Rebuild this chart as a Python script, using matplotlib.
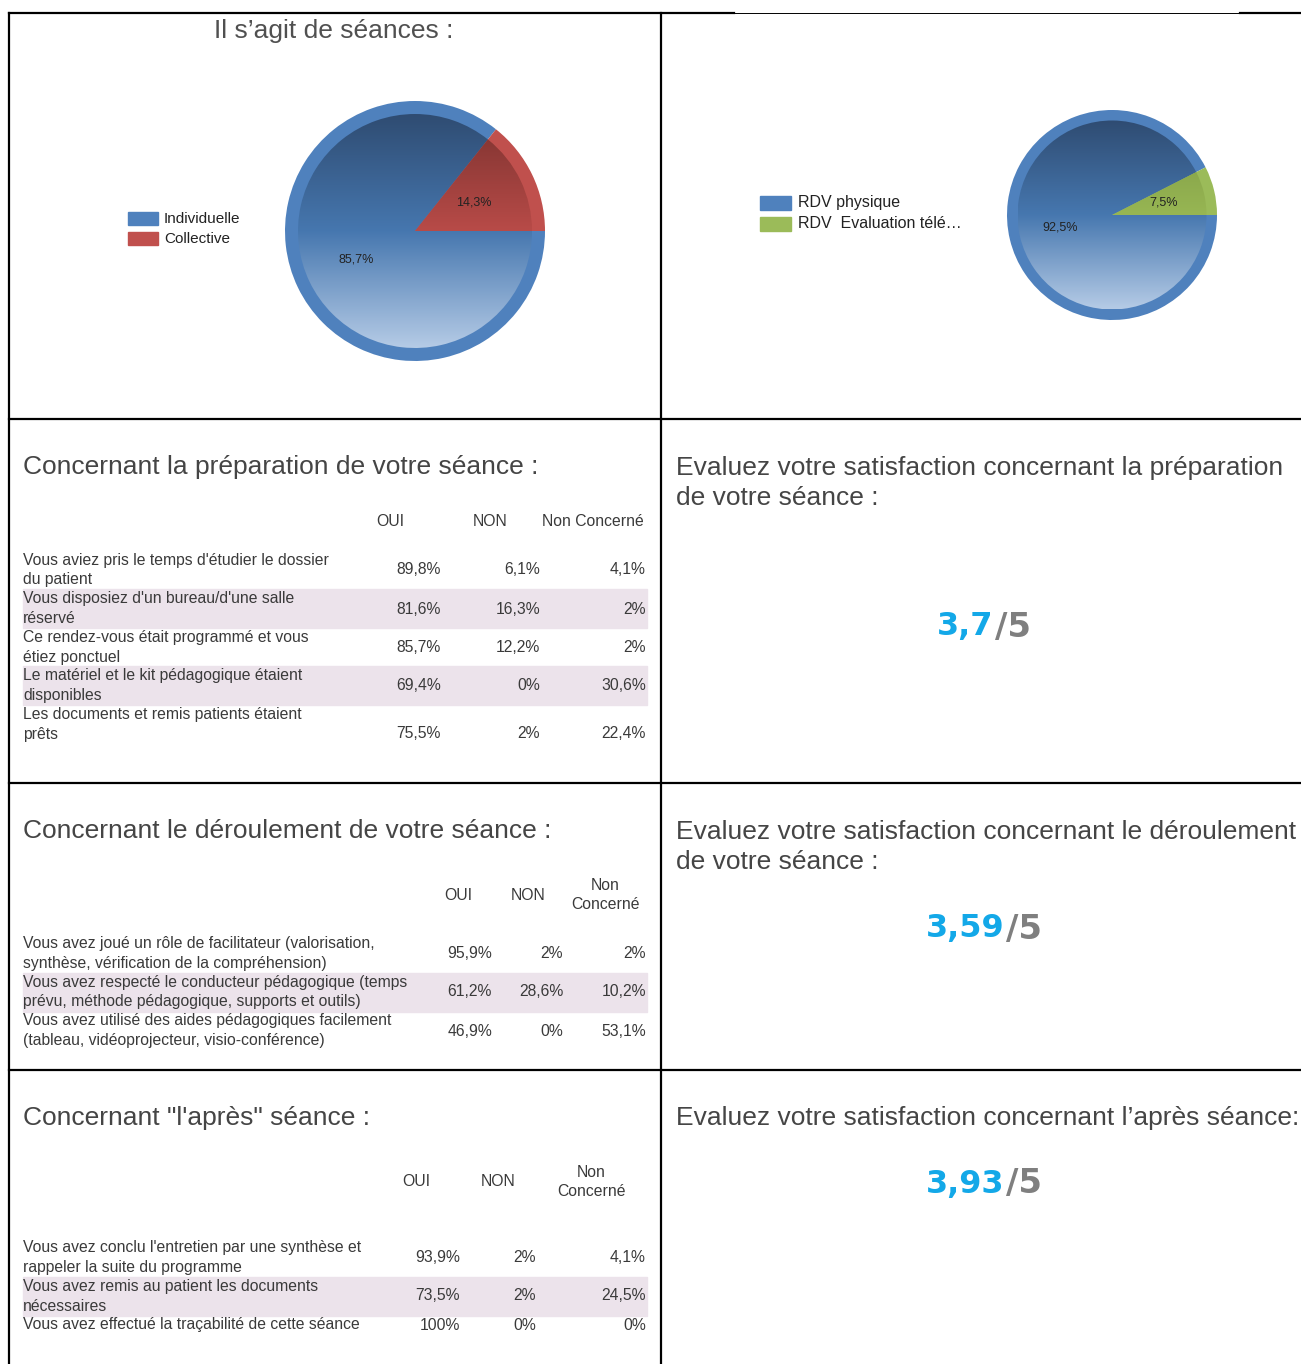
import numpy as np
import matplotlib
matplotlib.use("Agg")
import matplotlib.pyplot as plt
from matplotlib.patches import Rectangle
from matplotlib.colors import LinearSegmentedColormap

W, H = 1301, 1364

# --- data -------------------------------------------------------------
seance_labels = ["Individuelle", "Collective"]
seance_values = [85.7, 14.3]
rdv_labels = ["RDV physique", "RDV  Evaluation télé…"]
rdv_values = [92.5, 7.5]

prep_items = ["Vous aviez pris le temps d'étudier le dossier\ndu patient",
              "Vous disposiez d'un bureau/d'une salle\nréservé",
              "Ce rendez-vous était programmé et vous\nétiez ponctuel",
              "Le matériel et le kit pédagogique étaient\ndisponibles",
              "Les documents et remis patients étaient\nprêts"]
prep_oui = [89.8, 81.6, 85.7, 69.4, 75.5]
prep_non = [6.1, 16.3, 12.2, 0, 2]
prep_nc = [4.1, 2, 2, 30.6, 22.4]

deroul_items = ["Vous avez joué un rôle de facilitateur (valorisation,\nsynthèse, vérification de la compréhension)",
                "Vous avez respecté le conducteur pédagogique (temps\nprévu, méthode pédagogique, supports et outils)",
                "Vous avez utilisé des aides pédagogiques facilement\n(tableau, vidéoprojecteur, visio-conférence)"]
deroul_oui = [95.9, 61.2, 46.9]
deroul_non = [2, 28.6, 0]
deroul_nc = [2, 10.2, 53.1]

apres_items = ["Vous avez conclu l'entretien par une synthèse et\nrappeler la suite du programme",
               "Vous avez remis au patient les documents\nnécessaires",
               "Vous avez effectué la traçabilité de cette séance"]
apres_oui = [93.9, 73.5, 100]
apres_non = [2, 2, 0]
apres_nc = [4.1, 24.5, 0]

scores = [3.7, 3.59, 3.93]

titles_left = ["Concernant la préparation de votre séance :",
               "Concernant le déroulement de votre séance :",
               "Concernant \"l'après\" séance :"]
titles_right = ["Evaluez votre satisfaction concernant la préparation\nde votre séance :",
                "Evaluez votre satisfaction concernant le déroulement\nde votre séance :",
                "Evaluez votre satisfaction concernant l’après séance:"]


def pct(v):
    return f"{v:g}".replace(".", ",") + "%"


TXT = "#3a3a3a"
TITLE = "#454545"
FONT = "Liberation Sans"

fig = plt.figure(figsize=(W / 100, H / 100), dpi=100)
ax = fig.add_axes([0, 0, 1, 1])
ax.set_xlim(0, W)
ax.set_ylim(H, 0)
ax.axis("off")

# grid lines
lw = 1.6
ax.plot([9, 734], [13, 13], color="black", lw=lw)
ax.plot([734, 1240], [13, 13], color="black", lw=0.7)
ax.plot([1240, W], [13, 13], color="black", lw=lw)
for y in [419, 783, 1070]:
    ax.plot([9, W], [y, y], color="black", lw=lw)
ax.plot([9, 9], [13, H], color="black", lw=lw)
ax.plot([661, 661], [13, H], color="black", lw=lw)

# --- pies ---------------------------------------------------------------
grad = np.linspace(0, 1, 256).reshape(-1, 1)


def gradient_pie(cx, cy, r, values, ring_colors, grad_colors):
    pax = fig.add_axes([(cx - r) / W, 1 - (cy + r) / H, 2 * r / W, 2 * r / H])
    pax.pie(values, radius=1, colors=ring_colors, startangle=0,
            counterclock=False, wedgeprops=dict(linewidth=0))
    inner, _, autotexts = pax.pie(values, radius=0.9, colors=ring_colors, startangle=0,
                                  counterclock=False, pctdistance=0.56,
                                  autopct=lambda p: f"{p:.1f}".replace(".", ",") + "%",
                                  wedgeprops=dict(linewidth=0),
                                  textprops=dict(fontsize=9, color="#222222", family=FONT))
    for w, cols in zip(inner, grad_colors):
        cm = LinearSegmentedColormap.from_list("g", cols)
        im = pax.imshow(grad, cmap=cm, extent=(-0.9, 0.9, -0.9, 0.9), aspect="auto", zorder=2)
        im.set_clip_path(w)
    for t in autotexts:
        t.set_zorder(5)
    pax.set_xlim(-1, 1)
    pax.set_ylim(-1, 1)
    pax.axis("off")


blue_ring, red_ring, green_ring = "#4F81BD", "#C0504D", "#9BBB59"
blue_grad = ["#2F4C72", "#4677AF", "#B5CBE6"]
red_grad = ["#7C322F", "#B84B48", "#D67F7C"]
green_grad = ["#7D9944", "#97B653", "#B8D088"]

gradient_pie(415, 231, 130, seance_values, [blue_ring, red_ring], [blue_grad, red_grad])
gradient_pie(1112, 215, 105, rdv_values, [blue_ring, green_ring], [blue_grad, green_grad])

for i, (lab, col) in enumerate(zip(seance_labels, [blue_ring, red_ring])):
    y = 219 + 20 * i
    ax.add_patch(Rectangle((128, y - 7), 30, 13, color=col))
    ax.text(164, y, lab, ha="left", va="center", fontsize=11, color="#222222", family=FONT)
for i, (lab, col) in enumerate(zip(rdv_labels, [blue_ring, green_ring])):
    y = 203 + 21 * i
    ax.add_patch(Rectangle((760, y - 7), 31, 14, color=col))
    ax.text(798, y, lab, ha="left", va="center", fontsize=11.5, color="#222222", family=FONT)

ax.text(334, 31, "Il s’agit de séances :", ha="center", va="center", fontsize=19,
        color="#505050", family=FONT)

# --- titles -----------------------------------------------------------
for t, y in zip(titles_left, [467, 831, 1118]):
    ax.text(23, y, t, ha="left", va="center", fontsize=19, color=TITLE, family=FONT)
for t, y in zip(titles_right, [483, 847, 1118]):
    ax.text(676, y, t, ha="left", va="center", fontsize=19, color=TITLE,
            family=FONT, linespacing=1.3)


# --- tables -----------------------------------------------------------
def draw_table(items, oui, non, nc, head_y, head_x, two_line_nc, row_y, val_y, col_right, shaded):
    heads = ["OUI", "NON", "Non\nConcerné" if two_line_nc else "Non Concerné"]
    for h, x in zip(heads, head_x):
        ax.text(x, head_y, h, ha="center", va="center", fontsize=11.3, color=TXT,
                family=FONT, linespacing=1.35)
    for i, (lab, a, b, c) in enumerate(zip(items, oui, non, nc)):
        if i in shaded:
            ax.add_patch(Rectangle((23, row_y[i] - 19.5), 624, 39, color="#ECE3EB", zorder=0))
        ax.text(23, row_y[i], lab, ha="left", va="center", fontsize=11.3, color=TXT,
                family=FONT, linespacing=1.35)
        for v, x in zip([a, b, c], col_right):
            ax.text(x, val_y[i], pct(v), ha="right", va="center", fontsize=11.3,
                    color=TXT, family=FONT)


draw_table(prep_items, prep_oui, prep_non, prep_nc, 522, [390, 490, 593], False,
           [570, 608.5, 647.5, 685.5, 724.5], [570, 609, 647, 686, 734],
           [441, 540, 646], [1, 3])
draw_table(deroul_items, deroul_oui, deroul_non, deroul_nc, 895, [458, 528, 605], True,
           [953.5, 992, 1030.5], [953, 992, 1031], [492, 563, 646], [1])
draw_table(apres_items, apres_oui, apres_non, apres_nc, 1182, [416, 498, 591], True,
           [1257.5, 1296.5, 1325], [1258, 1296, 1325], [460, 536, 646], [1])

# --- scores -----------------------------------------------------------
for s, y, xs in zip(scores, [627, 929, 1184], [993, 1004, 1004]):
    ax.text(xs, y, f"{s:g}".replace(".", ","), ha="right", va="center", fontsize=23,
            fontweight="bold", color="#13A8E8", family="DejaVu Sans")
    ax.text(xs + 2, y, "/5", ha="left", va="center", fontsize=24.5,
            fontweight="bold", color="#7F7F7F", family="DejaVu Sans")

fig.savefig("out.png", dpi=100)
